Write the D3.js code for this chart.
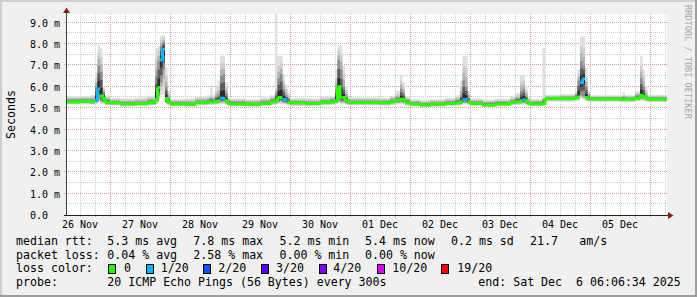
<!DOCTYPE html>
<html>
<head>
<meta charset="utf-8">
<script src="https://cdn.jsdelivr.net/npm/d3@7"></script>
<style>
  body { margin: 0; background: #fff; }
  svg text { font-family: "DejaVu Sans Mono", monospace; white-space: pre; }
</style>
</head>
<body>
<div class="chartWrapper"></div>
<script>
// sample times (UTC), one value per step, held until the next sample
var times = [
  '2025-11-26T06:48','2025-11-26T12:00','2025-11-26T16:00','2025-11-26T18:00','2025-11-26T19:00','2025-11-26T20:00','2025-11-26T21:00','2025-11-26T22:00',
  '2025-11-27T00:00','2025-11-27T04:00','2025-11-27T10:00','2025-11-27T15:00','2025-11-27T18:00','2025-11-27T19:00','2025-11-27T20:00','2025-11-27T21:00','2025-11-27T22:00','2025-11-27T23:00',
  '2025-11-28T00:00','2025-11-28T06:00','2025-11-28T10:00','2025-11-28T15:00','2025-11-28T16:00','2025-11-28T17:00','2025-11-28T18:00','2025-11-28T19:00','2025-11-28T20:00','2025-11-28T21:00','2025-11-28T22:00','2025-11-28T23:00',
  '2025-11-29T00:00','2025-11-29T06:00','2025-11-29T12:00','2025-11-29T16:00','2025-11-29T18:00','2025-11-29T19:00','2025-11-29T20:00','2025-11-29T21:00','2025-11-29T22:00','2025-11-29T23:00',
  '2025-11-30T00:00','2025-11-30T06:00','2025-11-30T12:00','2025-11-30T16:00','2025-11-30T18:00','2025-11-30T19:00','2025-11-30T20:00','2025-11-30T21:00','2025-11-30T22:00','2025-11-30T23:00',
  '2025-12-01T00:00','2025-12-01T12:00','2025-12-01T16:00','2025-12-01T18:00','2025-12-01T20:00','2025-12-01T21:00','2025-12-01T22:00',
  '2025-12-02T00:00','2025-12-02T04:00','2025-12-02T08:00','2025-12-02T14:00','2025-12-02T18:00','2025-12-02T20:00','2025-12-02T21:00','2025-12-02T22:00','2025-12-02T23:00',
  '2025-12-03T00:00','2025-12-03T05:00','2025-12-03T10:00','2025-12-03T16:00','2025-12-03T18:00','2025-12-03T20:00','2025-12-03T21:00','2025-12-03T22:00','2025-12-03T23:00',
  '2025-12-04T00:00','2025-12-04T05:00','2025-12-04T06:00','2025-12-04T12:00','2025-12-04T18:00','2025-12-04T19:00','2025-12-04T20:00','2025-12-04T21:00','2025-12-04T22:00','2025-12-04T23:00',
  '2025-12-05T00:00','2025-12-05T12:00','2025-12-05T13:00','2025-12-05T14:00','2025-12-05T18:00','2025-12-05T20:00','2025-12-05T21:00','2025-12-05T22:00','2025-12-05T23:00',
  '2025-12-06T06:48'
];
// median rtt, ms
var median = [
  5.30,5.32,5.30,5.38,5.90,5.57,5.45,5.28,
  5.25,5.20,5.22,5.26,5.40,5.96,7.25,7.77,5.45,5.30,
  5.20,5.18,5.27,5.30,5.30,5.30,5.32,5.35,5.46,5.45,5.35,5.22,
  5.20,5.18,5.22,5.30,5.35,5.50,5.50,5.40,5.38,5.28,
  5.25,5.22,5.28,5.30,5.35,6.00,5.50,5.50,5.35,5.28,
  5.27,5.25,5.30,5.38,5.42,5.40,5.25,
  5.20,5.15,5.18,5.22,5.25,5.30,5.40,5.40,5.30,
  5.22,5.15,5.20,5.28,5.30,5.35,5.40,5.35,5.22,
  5.20,5.22,5.45,5.45,5.50,5.53,6.19,6.38,5.50,5.43,
  5.43,5.42,5.42,5.42,5.48,5.60,5.55,5.45,5.42,
  5.38
];
// pings lost out of 20
var lossCount = [
  0,0,0,1,1,0,0,0,
  0,0,0,0,0,0,1,1,0,0,
  0,0,0,0,0,0,0,0,1,1,0,0,
  0,0,0,0,0,0,0,1,1,0,
  0,0,0,0,0,0,0,0,0,0,
  0,0,0,0,0,0,0,
  0,0,0,0,0,0,1,1,0,
  0,0,0,0,0,0,1,0,0,
  0,0,0,0,0,0,1,1,0,0,
  0,0,0,0,0,0,0,0,0,
  0
];
// smoke: spread of the 20 pings, ms
var pingMin = [
  5.17,5.18,5.17,5.20,5.25,5.20,5.18,5.12,
  5.12,5.08,5.10,5.12,5.20,5.45,5.60,5.60,5.20,5.12,
  5.08,5.07,5.12,5.15,5.15,5.15,5.16,5.18,5.20,5.20,5.16,5.10,
  5.08,5.07,5.10,5.15,5.17,5.20,5.20,5.18,5.16,5.12,
  5.10,5.09,5.13,5.15,5.18,5.25,5.20,5.20,5.15,5.12,
  5.12,5.11,5.15,5.18,5.20,5.18,5.11,
  5.08,5.05,5.07,5.10,5.11,5.15,5.18,5.18,5.14,
  5.09,5.05,5.08,5.13,5.15,5.17,5.18,5.16,5.10,
  5.08,5.10,5.30,5.30,5.33,5.35,5.45,5.40,5.33,5.30,
  5.30,5.29,5.29,5.29,5.32,5.35,5.33,5.30,5.29,
  5.26
];
var pingQ1 = [
  5.25,5.27,5.25,5.30,5.50,5.35,5.30,5.22,
  5.20,5.15,5.17,5.20,5.30,5.60,6.20,6.80,5.30,5.22,
  5.15,5.13,5.21,5.24,5.24,5.24,5.25,5.27,5.30,5.32,5.25,5.17,
  5.15,5.13,5.17,5.24,5.26,5.32,5.35,5.28,5.26,5.22,
  5.19,5.17,5.22,5.24,5.27,5.40,5.32,5.30,5.25,5.22,
  5.21,5.20,5.24,5.28,5.30,5.28,5.20,
  5.15,5.11,5.13,5.17,5.20,5.24,5.28,5.28,5.24,
  5.17,5.11,5.15,5.22,5.24,5.26,5.28,5.25,5.17,
  5.15,5.17,5.40,5.40,5.44,5.46,5.60,5.55,5.43,5.38,
  5.38,5.37,5.37,5.37,5.42,5.48,5.45,5.40,5.37,
  5.33
];
var pingQ3 = [
  5.40,5.42,5.42,6.00,7.00,6.70,5.75,5.40,
  5.33,5.28,5.30,5.38,6.50,7.20,7.90,8.10,6.00,5.50,
  5.28,5.27,5.36,5.40,5.45,5.40,5.55,5.65,6.50,6.60,5.70,5.35,
  5.30,5.27,5.32,5.42,5.70,6.40,6.60,5.90,5.60,5.45,
  5.33,5.30,5.36,5.40,5.90,7.25,6.80,6.00,5.60,5.40,
  5.35,5.33,5.40,5.50,5.90,5.70,5.38,
  5.28,5.24,5.27,5.31,5.38,5.60,6.30,6.00,5.50,
  5.31,5.25,5.29,5.37,5.45,5.80,5.90,5.60,5.33,
  5.29,5.40,5.52,5.53,5.62,6.30,7.20,7.00,6.00,5.60,
  5.50,5.50,5.52,5.50,5.60,6.40,6.00,5.60,5.50,
  5.47
];
var pingHigh = [
  5.50,5.51,5.55,6.40,7.60,7.40,5.90,5.52,
  5.43,5.40,5.44,5.50,7.30,7.70,8.20,8.30,6.50,5.70,
  5.38,5.39,5.47,5.53,5.55,5.55,5.80,6.00,7.10,7.10,6.00,5.45,
  5.40,5.37,5.44,5.53,5.90,7.00,7.10,6.30,5.90,5.60,
  5.42,5.40,5.46,5.52,6.40,7.70,7.50,6.60,5.85,5.48,
  5.45,5.43,5.52,5.65,6.30,6.00,5.48,
  5.37,5.33,5.37,5.42,5.52,6.00,7.00,6.90,5.70,
  5.40,5.35,5.39,5.48,5.60,6.30,6.30,5.85,5.45,
  5.38,5.50,5.58,5.60,5.72,6.60,7.90,7.80,6.50,5.72,
  5.56,5.56,5.62,5.56,5.72,7.00,6.50,5.85,5.57,
  5.54
];
var pingMax = [
  5.55,5.56,5.62,6.70,7.95,7.80,6.00,5.60,
  5.48,5.45,5.50,5.58,7.80,7.90,8.40,8.42,6.90,5.80,
  5.42,5.45,5.52,5.60,6.10,5.62,6.00,6.30,7.45,7.45,6.20,5.50,
  5.45,5.42,5.50,5.60,9.40,7.44,7.44,6.60,6.10,5.70,
  5.47,5.45,5.52,5.58,6.80,7.95,7.95,7.00,6.00,5.52,
  5.50,5.48,5.58,5.80,6.55,6.20,5.55,
  5.42,5.38,5.42,5.47,5.60,6.30,7.44,7.44,5.80,
  5.45,5.40,5.44,5.55,5.70,6.55,6.55,6.00,5.50,
  5.43,7.83,5.62,5.65,5.80,6.80,8.35,8.35,6.90,5.80,
  5.60,5.60,5.75,5.60,5.80,7.44,6.80,6.00,5.62,
  5.58
];
var yTicks = [0,1,2,3,4,5,6,7,8,9];
var yMinorTicks = [0.5,1.5,2.5,3.5,4.5,5.5,6.5,7.5,8.5];
var lossSteps = [0,1,2,3,4,10,19];
var lossLabels = ['0','1/20','2/20','3/20','4/20','10/20','19/20'];
var lossColors = ['#26ff00','#00b8ff','#0059ff','#5e00ff','#7e00ff','#dd00ff','#ff0000'];
var rttStats = ['5.3 ms avg','7.8 ms max','5.2 ms min','5.4 ms now','0.2 ms sd','21.7','am/s'];
var lossStats = ['0.04 % avg','2.58 % max','0.00 % min','0.00 % now'];
var probeText = '20 ICMP Echo Pings (56 Bytes) every 300s';
var endText = 'end: Sat Dec  6 06:06:34 2025';

var W = 697, H = 297;
var plot = { left: 67, right: 667, top: 14, bottom: 215 };
var parseTime = d3.utcParse('%Y-%m-%dT%H:%M');
var rows = times.map(function (t, i) {
  return { t: parseTime(t), med: median[i], loss: lossCount[i], min: pingMin[i],
           q1: pingQ1[i], q3: pingQ3[i], high: pingHigh[i], max: pingMax[i] };
});

var svg = d3.select('.chartWrapper').append('svg')
  .attr('width', W).attr('height', H);

// frame
svg.append('rect').attr('width', W).attr('height', H).attr('fill', '#f0f0f0');
svg.append('path').attr('d', 'M0,1H' + W + 'M1,0V' + H).attr('stroke', '#cfcfcf').attr('stroke-width', 2);
svg.append('path').attr('d', 'M0,' + (H - 1) + 'H' + W + 'M' + (W - 1) + ',0V' + H).attr('stroke', '#9e9e9e').attr('stroke-width', 2);
svg.append('rect')
  .attr('x', plot.left).attr('y', plot.top)
  .attr('width', plot.right - plot.left).attr('height', plot.bottom - plot.top)
  .attr('fill', '#fff');

var xScale = d3.scaleUtc()
  .domain([rows[0].t, rows[rows.length - 1].t])
  .range([plot.left, plot.right]);
var yScale = d3.scaleLinear().domain([0, 9.36]).range([215, 15]);

function px(v) { return Math.round(v) - 0.5; }

// grid
var grid = svg.append('g');
var minorTimes = d3.utcHour.every(6).range(xScale.domain()[0], xScale.domain()[1])
  .filter(function (d) { return d.getUTCHours() !== 0; });
var dayTimes = d3.utcDay.range(xScale.domain()[0], xScale.domain()[1]);
var noonTimes = dayTimes.map(function (d) { return d3.utcHour.offset(d, -12); });

grid.selectAll('.vminor').data(minorTimes).enter().append('line')
  .attr('x1', function (d) { return px(xScale(d)) + 1; }).attr('x2', function (d) { return px(xScale(d)) + 1; })
  .attr('y1', plot.top).attr('y2', plot.bottom + 2)
  .attr('stroke', '#cccccc').attr('stroke-dasharray', '1,1');
grid.selectAll('.hminor').data(yMinorTicks).enter().append('line')
  .attr('x1', plot.left - 2).attr('x2', plot.right)
  .attr('y1', function (d) { return px(yScale(d)); }).attr('y2', function (d) { return px(yScale(d)); })
  .attr('stroke', '#cccccc').attr('stroke-dasharray', '1,1');
grid.selectAll('.vmajor').data(dayTimes).enter().append('line')
  .attr('x1', function (d) { return px(xScale(d)) + 1; }).attr('x2', function (d) { return px(xScale(d)) + 1; })
  .attr('y1', plot.top).attr('y2', plot.bottom + 3)
  .attr('stroke', '#e49a9a').attr('stroke-dasharray', '1,1');
grid.selectAll('.hmajor').data(yTicks.slice(1)).enter().append('line')
  .attr('x1', plot.left - 3).attr('x2', plot.right)
  .attr('y1', function (d) { return px(yScale(d)); }).attr('y2', function (d) { return px(yScale(d)); })
  .attr('stroke', '#e49a9a').attr('stroke-dasharray', '1,1');

// smoke, lightest (outliers) outside, darkest around the median
svg.append('clipPath').attr('id', 'plotClip').append('rect')
  .attr('x', plot.left).attr('y', plot.top)
  .attr('width', plot.right - plot.left).attr('height', plot.bottom - plot.top);
var smoke = svg.append('g').attr('clip-path', 'url(#plotClip)');
function mix(a, b, f) { return a + (b - a) * f; }
function band(lo, hi) {
  return d3.area().curve(d3.curveStepAfter)
    .x(function (d) { return xScale(d.t); })
    .y0(function (d) { return yScale(lo(d)); })
    .y1(function (d) { return yScale(hi(d)); });
}
var layers = [
  ['#e0e0e0', function (d) { return d.min; }, function (d) { return d.max; }],
  ['#cdcdcd', function (d) { return mix(d.min, d.q1, 1 / 3); }, function (d) { return d.high; }],
  ['#b2b2b2', function (d) { return mix(d.min, d.q1, 2 / 3); }, function (d) { return mix(d.high, d.q3, 0.5); }],
  ['#8c8c8c', function (d) { return d.q1; }, function (d) { return d.q3; }],
  ['#5c5c5c', function (d) { return mix(d.q1, d.med, 1 / 3); }, function (d) { return mix(d.q3, d.med, 1 / 3); }],
  ['#2c2c2c', function (d) { return mix(d.q1, d.med, 2 / 3); }, function (d) { return mix(d.q3, d.med, 2 / 3); }]
];
layers.forEach(function (l) {
  smoke.append('path').datum(rows).attr('fill', l[0]).attr('d', band(l[1], l[2]));
});

// median line, coloured by loss; no vertical joins where the colour changes
smoke.selectAll('.median').data(d3.pairs(rows)).enter().append('path')
  .attr('fill', 'none').attr('stroke-width', 3)
  .attr('stroke', function (p) { return lossColors[lossSteps.indexOf(p[0].loss)]; })
  .attr('d', function (p) {
    var x0 = xScale(p[0].t), x1 = xScale(p[1].t);
    var d = 'M' + x0 + ',' + yScale(p[0].med) + 'H' + x1;
    if (p[0].loss === p[1].loss) d += 'V' + yScale(p[1].med);
    return d;
  });

// axes
svg.append('line').attr('x1', 66.5).attr('x2', 66.5).attr('y1', 13).attr('y2', plot.bottom + 1)
  .attr('stroke', '#404040');
svg.append('line').attr('x1', 64).attr('x2', 669).attr('y1', 215.5).attr('y2', 215.5)
  .attr('stroke', '#202020');
svg.append('path').attr('d', 'M63,13L70,13L66.5,7.5Z').attr('fill', '#8b1c1c');
svg.append('path').attr('d', 'M668,212L668,219L673.5,215.5Z').attr('fill', '#8b1c1c');

svg.selectAll('.ylab').data(yTicks).enter().append('text')
  .attr('x', 30).attr('y', function (d) { return px(yScale(d)) + 4; })
  .attr('font-size', '10px').attr('fill', '#000')
  .text(function (d) { return d === 0 ? '0.0' : d.toFixed(1) + ' m'; });

svg.selectAll('.xlab').data(noonTimes).enter().append('text')
  .attr('x', function (d) { return xScale(d); }).attr('y', 228)
  .attr('text-anchor', 'middle').attr('font-size', '10px').attr('fill', '#000')
  .text(d3.utcFormat('%d %b'));

svg.append('text').attr('transform', 'translate(15,114.5) rotate(-90)')
  .attr('text-anchor', 'middle').attr('font-size', '11.6px').text('Seconds');
svg.append('text').attr('transform', 'translate(685,5) rotate(90)')
  .attr('font-size', '8.6px').attr('fill', '#a8a8a8').text('RRDTOOL / TOBI OETIKER');

// legend
var legend = svg.append('g').attr('font-size', '11.6px').attr('fill', '#000');
function put(x, y, s) { legend.append('text').attr('x', x).attr('y', y).text(s); }
put(16, 245, 'median rtt:');
[107.3, 193.3, 279.5, 365, 451, 530, 579.3].forEach(function (x, i) { put(x, 245, rttStats[i]); });
put(16, 258.7, 'packet loss:');
[107.3, 193.3, 279.5, 365].forEach(function (x, i) { put(x, 258.7, lossStats[i]); });
put(16, 272.3, 'loss color:');
var boxX = [108.5, 146.5, 203.5, 261.5, 319.5, 377.5, 441.5];
var labX = [124, 160.7, 218.3, 276, 333.3, 392.3, 457.3];
lossLabels.forEach(function (l, i) {
  legend.append('rect').attr('x', boxX[i]).attr('y', 264.5).attr('width', 7).attr('height', 9)
    .attr('fill', lossColors[i]).attr('stroke', '#000');
  put(labX[i], 272.3, l);
});
put(16, 286, 'probe:');
put(107.3, 286, probeText);
put(478.3, 286, endText);
</script>
</body>
</html>
